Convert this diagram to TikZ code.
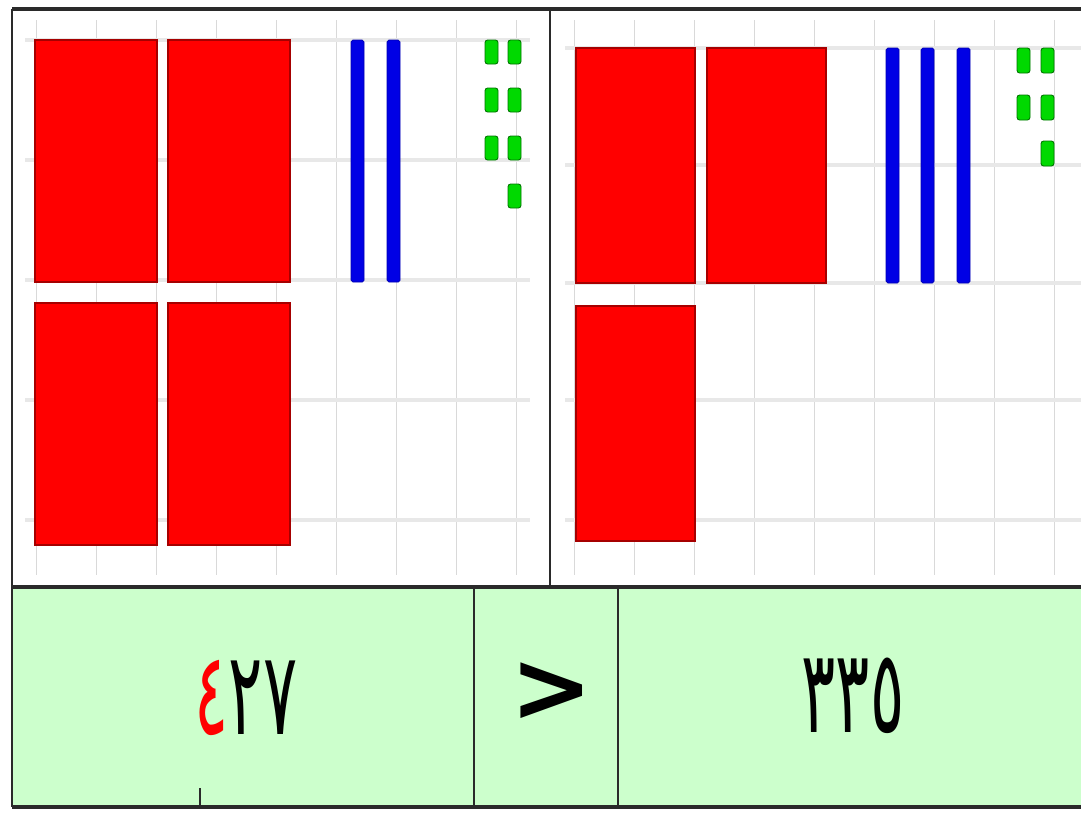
\documentclass[tikz,border=0pt]{standalone}
\usepackage{fontspec}
\newfontfamily\arabicfont[Script=Arabic]{DejaVu Sans}
\newfontfamily\signfont{DejaVu Sans}
\usetikzlibrary{positioning}
\definecolor{bandgreen}{HTML}{CCFFCC}
\definecolor{frame}{HTML}{2A2A2A}

\begin{document}
\begin{tikzpicture}[x=.02cm,y=-.02cm,
  hund/.style={fill=red,draw=red!65!black,line width=.7},
  ten/.style={fill=blue!90!black,draw=blue!70!black,line width=.4},
  one/.style={fill=green!85!black,draw=green!45!black,line width=.5,rounded corners=1.5},
  gridv/.style={gray!30,line width=.5},
  gridh/.style={gray!18,line width=2.2},
  digits/.style={font=\arabicfont\fontsize{66}{66}\selectfont,xscale=.55}]
\useasboundingbox (0,0) rectangle (1081,812);
\fill[white] (0,0) rectangle (1081,812);
\fill[bandgreen] (12,587) rectangle (1081,807);
% grid, left and right panels
\foreach \x in {0,...,8}{\draw[gridv] ({36+60*\x},20)--({36+60*\x},575); \draw[gridv] ({574+60*\x},20)--({574+60*\x},575);}
\foreach \y in {40,160,280,400,520}{\draw[gridh] (25,\y)--(530,\y);}
\foreach \y in {48,165,283,400,520}{\draw[gridh] (565,\y)--(1081,\y);}
% left panel: 427
\foreach \a/\b in {35/40,168/40,35/303,168/303}{\draw[hund] (\a,\b) rectangle ++(122,242);}
\foreach \a in {351,387}{\draw[ten,rounded corners=1] (\a,40) rectangle ++(13,242);}
\foreach \a/\b in {485/40,508/40,485/88,508/88,485/136,508/136,508/184}{\draw[one] (\a,\b) rectangle ++(13,24);}
% right panel: 335
\foreach \a/\b in {576/48,707/48,576/306}{\draw[hund] (\a,\b) rectangle ++(119,235);}
\foreach \a in {886,921,957}{\draw[ten,rounded corners=1] (\a,48) rectangle ++(13,235);}
\foreach \a/\b in {1017/48,1041/48,1017/95,1041/95,1041/141}{\draw[one] (\a,\b) rectangle ++(13,25);}
% frames
\draw[frame,line width=2] (12,9)--(1081,9);
\draw[frame,line width=1.6] (12,9)--(12,807);
\draw[frame,line width=1.2] (550,9)--(550,587);
\draw[frame,line width=2.4] (12,587)--(1081,587);
\draw[frame,line width=2.4] (12,807)--(1081,807);
\draw[frame,line width=1] (474,587)--(474,807) (618,587)--(618,807);
\draw[frame,line width=.8] (200,788)--(200,807);
% numbers
\node[digits] (leftnum) at (246,698){\textcolor{red}{٤}٢٧};
\node[font=\signfont\bfseries\fontsize{56}{56}\selectfont] (sign) at (552,692){>};
\node[digits] (rightnum) at (853,696){٣٣٥};
\end{tikzpicture}
\end{document}
